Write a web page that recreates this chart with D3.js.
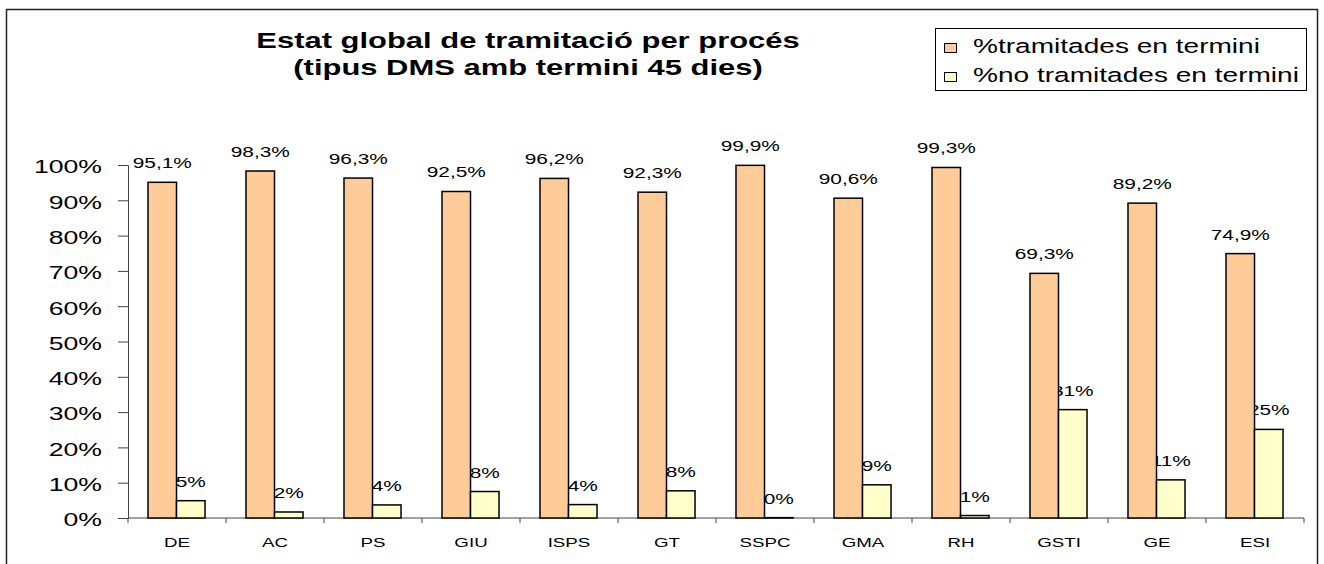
<!DOCTYPE html>
<html>
<head>
<meta charset="utf-8">
<script src="https://cdn.jsdelivr.net/npm/d3@7"></script>
<style>
  body { margin: 0; background: #fff; }
  text { font-family: "Liberation Sans", Arial, sans-serif; fill: #000; }
</style>
</head>
<body>
<div id="chart"></div>
<script>
// Chart data
var categories = ["DE", "AC", "PS", "GIU", "ISPS", "GT", "SSPC", "GMA", "RH", "GSTI", "GE", "ESI"];
var enTermini = [95.1, 98.3, 96.3, 92.5, 96.2, 92.3, 99.9, 90.6, 99.3, 69.3, 89.2, 74.9];
var noEnTermini = [4.9, 1.7, 3.7, 7.5, 3.8, 7.7, 0.1, 9.4, 0.7, 30.7, 10.8, 25.1];
var seriesNames = ["%tramitades en termini", "%no tramitades en termini"];
var seriesColors = ["#FFCC99", "#FFFFCC"];
var yTicks = [0, 10, 20, 30, 40, 50, 60, 70, 80, 90, 100];
var titleLines = ["Estat global de tramitació per procés", "(tipus DMS amb termini 45 dies)"];

// SVG area
var svgWidth = 1324;
var svgHeight = 564;

// plot area edges
var plot = { left: 128, right: 1304, top: 165, bottom: 518 };

// the original picture is stretched sideways, so text is too
var SX = 1.44;

var svg = d3.select("#chart")
    .append("svg")
    .attr("width", svgWidth)
    .attr("height", svgHeight);

// outer frame
svg.append("rect")
    .attr("x", 6.5)
    .attr("y", 9.5)
    .attr("width", 1311)
    .attr("height", 600)
    .attr("fill", "none")
    .attr("stroke", "#222")
    .attr("stroke-width", 1.5);

function stretchedText(g, x, y, str, size, anchor, bold) {
    return g.append("text")
        .attr("transform", `translate(${x},${y}) scale(${SX},1)`)
        .attr("text-anchor", anchor)
        .style("font-size", size + "px")
        .style("font-weight", bold ? "bold" : "normal")
        .text(str);
}

// title
titleLines.forEach(function(line, i) {
    stretchedText(svg, 528, 48 + i * 27, line, 21.5, "middle", true);
});

// scales
var x0 = d3.scaleBand()
    .domain(categories)
    .range([plot.left, plot.right])
    .padding(0);

var bw = x0.bandwidth();
var x1 = d3.scaleBand()
    .domain([0, 1])
    .range([bw * 0.204, bw * 0.786])
    .padding(0);

var y = d3.scaleLinear()
    .domain([0, 100])
    .range([plot.bottom, plot.top]);

// y axis
var yAxis = d3.axisLeft(y)
    .tickValues(yTicks)
    .tickSize(10)
    .tickFormat("");

var yG = svg.append("g")
    .attr("transform", `translate(${plot.left},0)`)
    .call(yAxis);
yG.select(".domain").attr("stroke", "#444");
yG.selectAll(".tick line").attr("stroke", "#444");

yTicks.forEach(function(t) {
    stretchedText(svg, 102, y(t) + 8.3, t + "%", 18.5, "end", false);
});

// x axis: ticks sit on category boundaries
var xG = svg.append("g");
xG.append("line")
    .attr("x1", plot.left)
    .attr("x2", plot.right)
    .attr("y1", plot.bottom)
    .attr("y2", plot.bottom)
    .attr("stroke", "#444");

var boundaries = categories.map(c => x0(c)).concat([plot.right]);
xG.selectAll("line.tk")
    .data(boundaries)
    .enter()
    .append("line")
        .attr("class", "tk")
        .attr("x1", d => d)
        .attr("x2", d => d)
        .attr("y1", plot.bottom)
        .attr("y2", plot.bottom + 5)
        .attr("stroke", "#444");

categories.forEach(function(c) {
    stretchedText(svg, x0(c) + bw / 2, 547, c, 13, "middle", false);
});

// value labels go under the bars (the bars hide part of them)
var fmtDec = d3.format(".1f");
var fmtInt = d3.format(".0f");

categories.forEach(function(c, i) {
    var xa = x0(c) + x1(0) + x1.bandwidth() / 2;
    var xb = x0(c) + x1(1) + x1.bandwidth() / 2;
    stretchedText(svg, xa, y(enTermini[i]) - 14, fmtDec(enTermini[i]).replace(".", ",") + "%", 14.5, "middle", false);
    stretchedText(svg, xb, y(noEnTermini[i]) - 14, fmtInt(noEnTermini[i]) + "%", 14.5, "middle", false);
});

// bars
var seriesValues = [enTermini, noEnTermini];
seriesValues.forEach(function(vals, s) {
    svg.append("g")
        .selectAll("rect")
        .data(vals)
        .enter()
        .append("rect")
            .attr("x", (d, i) => x0(categories[i]) + x1(s))
            .attr("y", d => y(d))
            .attr("width", x1.bandwidth())
            .attr("height", d => plot.bottom - y(d))
            .attr("fill", seriesColors[s])
            .attr("stroke", "#000")
            .attr("stroke-width", 1.5);
});

// legend
var legend = svg.append("g");
legend.append("rect")
    .attr("x", 935.5)
    .attr("y", 28.5)
    .attr("width", 371)
    .attr("height", 62)
    .attr("fill", "#fff")
    .attr("stroke", "#000")
    .attr("stroke-width", 1);

seriesNames.forEach(function(name, i) {
    legend.append("rect")
        .attr("x", 944.5)
        .attr("y", 43.5 + i * 29)
        .attr("width", 12)
        .attr("height", 9)
        .attr("fill", seriesColors[i])
        .attr("stroke", "#000")
        .attr("stroke-width", 1);
    stretchedText(legend, 973, 52.5 + i * 29, name, 19.5, "start", false);
});
</script>
</body>
</html>
